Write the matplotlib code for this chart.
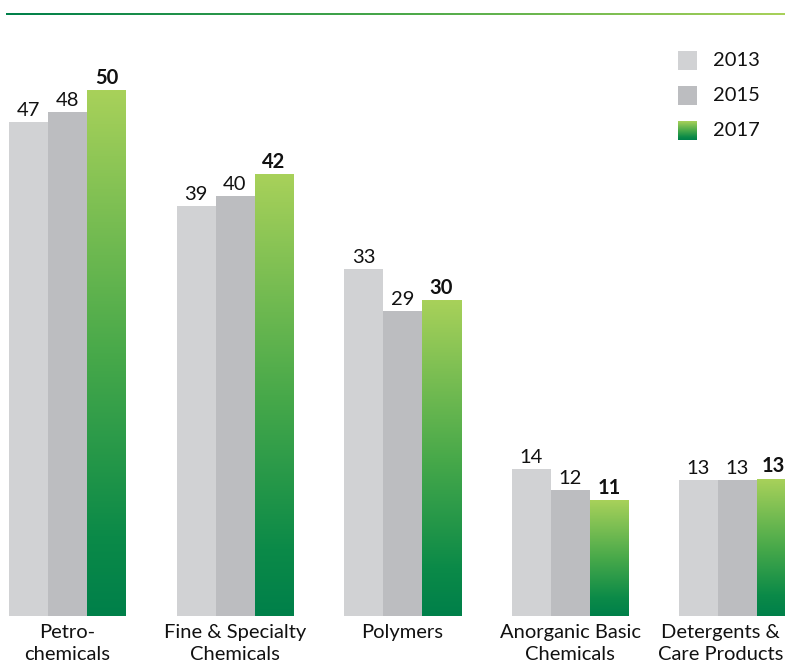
import matplotlib
matplotlib.use("Agg")
import matplotlib.pyplot as plt
import numpy as np
from matplotlib.colors import LinearSegmentedColormap

plt.rcParams['font.family'] = ['Lato', 'DejaVu Sans']

categories = ["Petro-\nchemicals", "Fine & Specialty\nChemicals", "Polymers",
              "Anorganic Basic\nChemicals", "Detergents &\nCare Products"]
years = ["2013", "2015", "2017"]
v2013 = [47, 39, 33, 14, 13]
v2015 = [48, 40, 29, 12, 13]
v2017 = [50, 42, 30, 11, 13]

c2013 = "#d1d2d4"
c2015 = "#bcbdc0"
green_cmap = LinearSegmentedColormap.from_list(
    "g", [(0.0, "#00804a"), (0.15, "#0b8a48"), (0.5, "#48a94a"), (1.0, "#a8d15a")])

W, H = 785, 664
fig = plt.figure(figsize=(W / 100, H / 100), dpi=100)

# top gradient rule
lax = fig.add_axes([6 / W, 1 - 15.5 / H, 1 - 6 / W, 3 / H])
lax.imshow(np.linspace(0, 1, 256)[None, :], cmap=LinearSegmentedColormap.from_list(
    "h", ["#00804a", "#4aa84a", "#a8d15a"]), aspect="auto", extent=(0, 1, 0, 1))
lax.set_axis_off()

base_px = 616
px_per_unit = 10.5
ax = fig.add_axes([0, (H - base_px) / H, 1, base_px / H])
step = 167.5
x0 = 67.5
bw = 39 / step
x = np.arange(len(categories))

ax.bar(x - bw, v2013, bw, color=c2013, align="center")
ax.bar(x, v2015, bw, color=c2015, align="center")
grad = np.linspace(0, 1, 256)[:, None]
for xi, v in zip(x + bw, v2017):
    ax.imshow(grad, cmap=green_cmap, origin="lower", aspect="auto",
              extent=(xi - bw / 2, xi + bw / 2, 0, v), zorder=2)

fs = 14.5
for vals, off, wt in [(v2013, -bw, "normal"), (v2015, 0, "normal"), (v2017, bw, "bold")]:
    for i, (xi, v) in enumerate(zip(x + off, vals)):
        dx = -3 if (wt == "bold" and i == len(vals) - 1) else 0
        ax.annotate(str(v), (xi, v), xytext=(dx, 3), textcoords="offset pixels",
                    ha="center", va="bottom", fontsize=fs, fontweight=wt, color="#111111")

label_shift = [0, 0, 0, 0, -17]
for xi, c, sh in zip(x, categories, label_shift):
    ax.annotate(c, (xi, 0), xytext=(sh, -8), textcoords="offset pixels",
                ha="center", va="top", fontsize=fs, color="#111111", linespacing=1.35,
                annotation_clip=False)

ax.set_xlim(-x0 / step, (W - x0) / step)
ax.set_ylim(0, base_px / px_per_unit)
ax.set_axis_off()

# legend
sw = 19
for i, (yr, col) in enumerate(zip(years, [c2013, c2015, None])):
    ytop = 51 + i * 35
    sax = fig.add_axes([678 / W, 1 - (ytop + sw) / H, sw / W, sw / H])
    if col is None:
        sax.imshow(grad, cmap=green_cmap, origin="lower", aspect="auto", extent=(0, 1, 0, 1))
    else:
        sax.set_facecolor(col)
    sax.set_xticks([]); sax.set_yticks([])
    for s in sax.spines.values():
        s.set_visible(False)
    fig.text(713 / W, 1 - (ytop + sw / 2) / H, yr, ha="left", va="center",
             fontsize=fs, color="#111111")

fig.savefig("out.png", dpi=100)
